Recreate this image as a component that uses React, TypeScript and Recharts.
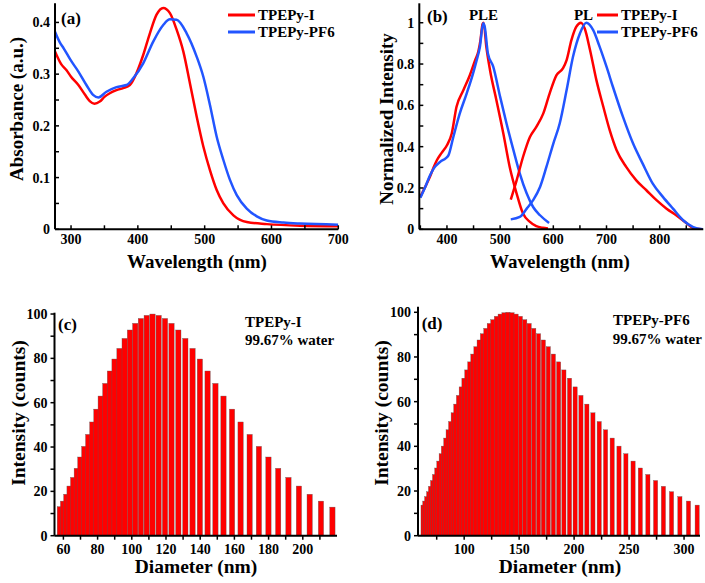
import React from "react";
import { LineChart, Line, BarChart, Bar, XAxis, YAxis, Legend } from "recharts";

const SERIF = '"Liberation Serif", "Times New Roman", serif';
const RED = "#ff0000";
const BLUE = "#2255ff";

// (a) absorbance
const absWlI = [276, 285, 293, 300, 311, 321, 328, 335, 343, 350, 358, 368, 378, 388, 398, 408, 418, 428, 438, 448, 458, 468, 478, 488, 498, 508, 518, 528, 543, 563, 593, 643, 700];
const absValI = [0.344, 0.32, 0.308, 0.295, 0.279, 0.26, 0.248, 0.243, 0.247, 0.256, 0.263, 0.269, 0.273, 0.279, 0.302, 0.337, 0.379, 0.415, 0.428, 0.418, 0.386, 0.344, 0.282, 0.218, 0.16, 0.114, 0.076, 0.05, 0.027, 0.014, 0.01, 0.007, 0.006];
const absWlPF6 = [276, 283, 289, 299, 311, 323, 333, 341, 353, 368, 383, 393, 408, 423, 438, 448, 458, 473, 488, 498, 508, 518, 528, 538, 548, 563, 578, 593, 618, 643, 700];
const absValPF6 = [0.382, 0.362, 0.35, 0.328, 0.305, 0.279, 0.26, 0.255, 0.266, 0.275, 0.279, 0.292, 0.321, 0.363, 0.395, 0.406, 0.405, 0.379, 0.334, 0.295, 0.24, 0.179, 0.134, 0.095, 0.066, 0.04, 0.025, 0.017, 0.013, 0.011, 0.009];

// (b) PLE / PL
const pleWlI = [350, 360, 368, 375, 381, 390, 400, 409, 418, 431, 443, 453, 459, 463, 467, 469, 474, 481, 493, 506, 518, 531, 543, 556, 568, 580, 590];
const pleValI = [0.157, 0.21, 0.254, 0.3, 0.334, 0.37, 0.407, 0.464, 0.593, 0.674, 0.746, 0.819, 0.86, 0.916, 0.994, 1.0, 0.884, 0.77, 0.625, 0.464, 0.302, 0.173, 0.076, 0.036, 0.015, 0.007, 0.004];
const pleWlPF6 = [350, 360, 368, 375, 387, 398, 403, 412, 424, 437, 449, 456, 462, 468, 471, 477, 487, 500, 512, 525, 537, 550, 562, 575, 592];
const pleValPF6 = [0.153, 0.21, 0.26, 0.294, 0.326, 0.345, 0.359, 0.447, 0.56, 0.657, 0.754, 0.82, 0.884, 0.997, 0.98, 0.851, 0.787, 0.641, 0.512, 0.383, 0.27, 0.173, 0.108, 0.068, 0.031];
const plWlI = [520, 531, 543, 556, 568, 581, 593, 606, 618, 625, 634, 643, 652, 659, 669, 681, 694, 706, 719, 737, 756, 775, 794, 813, 831, 850, 863, 878];
const plValI = [0.144, 0.237, 0.35, 0.447, 0.496, 0.56, 0.657, 0.746, 0.779, 0.819, 0.916, 0.98, 1.0, 0.972, 0.868, 0.722, 0.593, 0.48, 0.383, 0.302, 0.237, 0.189, 0.141, 0.1, 0.068, 0.031, 0.006, 0];
const plWlPF6 = [520, 537, 550, 562, 575, 587, 600, 612, 625, 637, 650, 662, 675, 687, 700, 712, 731, 750, 768, 787, 806, 825, 844, 863, 881];
const plValPF6 = [0.048, 0.06, 0.1, 0.141, 0.205, 0.302, 0.415, 0.512, 0.674, 0.835, 0.948, 1.0, 0.964, 0.884, 0.787, 0.69, 0.544, 0.415, 0.318, 0.221, 0.157, 0.1, 0.044, 0.011, 0];

// (c) DLS TPEPy-I
const dlsDiamI = [57.8, 59.7, 61.6, 63.5, 65.6, 67.7, 69.8, 72.1, 74.4, 76.8, 79.2, 81.7, 84.4, 87.1, 89.8, 92.7, 95.7, 98.8, 101.9, 105.2, 108.6, 112.0, 115.6, 119.3, 123.1, 127.1, 131.2, 135.4, 139.7, 144.2, 148.8, 153.5, 158.5, 163.5, 168.8, 174.2, 179.8, 185.5, 191.5, 197.6, 203.9, 210.5, 217.2];
const dlsCountI = [13.1, 15.6, 18.7, 22.4, 26.3, 30.4, 35.5, 40.3, 45.7, 51.3, 57.1, 63.0, 68.7, 74.3, 79.7, 84.5, 89.0, 92.8, 95.8, 98.0, 99.4, 100, 99.4, 98.0, 95.8, 92.8, 89.0, 84.5, 79.7, 74.3, 68.7, 63.0, 57.1, 51.3, 45.7, 40.3, 35.5, 30.4, 26.3, 22.4, 18.7, 15.6, 12.9];

// (d) DLS TPEPy-PF6
const dlsDiamPF6 = [62.8, 64.4, 66.1, 67.9, 69.6, 71.5, 73.3, 75.3, 77.2, 79.3, 81.3, 83.5, 85.6, 87.9, 90.2, 92.6, 95.0, 97.5, 100.0, 102.6, 105.3, 108.1, 110.9, 113.8, 116.8, 119.9, 123.0, 126.2, 129.5, 132.9, 136.4, 140.0, 143.7, 147.4, 151.3, 155.3, 159.3, 163.5, 167.8, 172.2, 176.7, 181.3, 186.1, 190.9, 196.0, 201.1, 206.4, 211.8, 217.3, 223.0, 228.8, 234.8, 241.0, 247.3, 253.8, 260.4, 267.3, 274.3, 281.4, 288.8, 296.4, 304.2, 312.1];
const dlsCountPF6 = [13.7, 15.5, 17.5, 19.7, 22.1, 24.7, 27.4, 30.3, 33.4, 36.7, 40.1, 43.7, 47.4, 51.1, 55.0, 58.9, 62.8, 66.6, 70.5, 74.2, 77.8, 81.3, 84.6, 87.6, 90.4, 92.8, 95.0, 96.7, 98.2, 99.2, 99.8, 100, 99.8, 99.2, 98.2, 96.7, 95.0, 92.8, 90.4, 87.6, 84.6, 81.3, 77.8, 74.2, 70.5, 66.6, 62.8, 58.9, 55.0, 51.1, 47.4, 43.7, 40.1, 36.7, 33.4, 30.3, 27.4, 24.7, 22.1, 19.7, 17.5, 15.5, 13.7];

// ticks
const aXTicks = [300, 350, 400, 450, 500, 550, 600, 650, 700];
const aYTicks = [0, 0.05, 0.1, 0.15, 0.2, 0.25, 0.3, 0.35, 0.4];
const bXTicks = [350, 400, 450, 500, 550, 600, 650, 700, 750, 800, 850];
const bYTicks = [0, 0.1, 0.2, 0.3, 0.4, 0.5, 0.6, 0.7, 0.8, 0.9, 1.0];
const cXTicks = [60, 70, 80, 90, 100, 110, 120, 130, 140, 150, 160, 170, 180, 190, 200, 210];
const dXTicks = [75, 100, 125, 150, 175, 200, 225, 250, 275, 300];
const countTicks = [0, 10, 20, 30, 40, 50, 60, 70, 80, 90, 100];

const zip = (xs: number[], ys: number[]) => xs.map((x, i) => ({ x, y: ys[i] }));

const tickFont = { fontSize: 14, fontWeight: 700, fill: "#000", fontFamily: SERIF };
const axisStroke = { stroke: "#000", strokeWidth: 2 };
const tickStroke = { stroke: "#000", strokeWidth: 1.5 };

const everyOther = (step: number) => (v: number) =>
  Math.abs(v / step - Math.round(v / step)) < 1e-6 ? String(Math.round(v * 10) / 10) : "";

function Txt({ x, y, size, anchor, rotate, children }: any) {
  let transform = "translate(0,-50%)";
  if (anchor === "middle") transform = "translate(-50%,-50%)";
  if (rotate) transform = "translate(-50%,-50%) rotate(-90deg)";
  return (
    <span
      style={{
        position: "absolute",
        left: x,
        top: y,
        fontSize: size,
        lineHeight: 1,
        transform,
        whiteSpace: "nowrap",
        fontFamily: SERIF,
        fontWeight: 700,
        color: "#000",
      }}
    >
      {children}
    </span>
  );
}

const legendNames = ["TPEPy-I", "TPEPy-PF6"];

const makeLegend = (lineW: number) => (props: any) => (
  <div style={{ fontFamily: SERIF, fontWeight: 700, fontSize: 15, color: "#000" }}>
    {(props.payload || [])
      .filter((it: any) => it.type !== "none" && legendNames.includes(it.value))
      .map((it: any) => (
        <div key={it.value} style={{ display: "flex", alignItems: "center", height: 17, whiteSpace: "nowrap" }}>
          <svg width={lineW} height={4} style={{ display: "block" }}>
            <line x1={0} y1={2} x2={lineW} y2={2} stroke={it.color} strokeWidth={3} />
          </svg>
          <span style={{ marginLeft: 3 }}>{it.value}</span>
        </div>
      ))}
  </div>
);

// bar drawn centred on the library's x position, with a fixed width
const barShape = (w: number) => (p: any) => (
  <rect
    x={p.x + p.width / 2 - w / 2}
    y={p.y}
    width={w}
    height={p.height}
    fill={RED}
    stroke="#5a5a5a"
    strokeWidth={0.35}
  />
);

export default function App() {
  return (
    <div style={{ position: "absolute", left: 0, top: 0, width: 705, height: 583, background: "#fff", overflow: "hidden" }}>
      {/* (a) */}
      <div style={{ position: "absolute", left: 0, top: 0 }}>
        <LineChart width={350} height={290} margin={{ top: 3.3, right: 11.7, bottom: 30.7, left: 0 }}>
          <XAxis dataKey="x" type="number" domain={[276, 700]} allowDataOverflow ticks={aXTicks} interval={0}
            tickFormatter={everyOther(100)} tick={tickFont} tickSize={-4} tickMargin={9}
            axisLine={axisStroke} tickLine={tickStroke} height={30} />
          <XAxis xAxisId="top" orientation="top" type="number" domain={[276, 700]} allowDataOverflow
            tick={false} tickLine={false} axisLine={axisStroke} height={0} />
          <YAxis type="number" domain={[0, 0.437]} allowDataOverflow ticks={aYTicks} interval={0}
            tickFormatter={everyOther(0.1)} tick={tickFont} tickSize={-4} tickMargin={9}
            axisLine={axisStroke} tickLine={tickStroke} width={55} />
          <YAxis yAxisId="right" orientation="right" type="number" domain={[0, 0.437]} allowDataOverflow
            tick={false} tickLine={false} axisLine={axisStroke} width={0} />
          <Line data={zip(absWlI, absValI)} dataKey="y" name="TPEPy-I" type="monotone" stroke={RED}
            strokeWidth={2.5} dot={false} isAnimationActive={false} />
          <Line data={zip(absWlPF6, absValPF6)} dataKey="y" name="TPEPy-PF6" type="monotone" stroke={BLUE}
            strokeWidth={2.5} dot={false} isAnimationActive={false} />
          <Legend layout="vertical" align="center" verticalAlign="middle" content={makeLegend(27)}
            wrapperStyle={{ left: 228, top: 6.5, width: 120 }} />
        </LineChart>
      </div>

      {/* (b) */}
      <div style={{ position: "absolute", left: 350, top: 0 }}>
        <LineChart width={355} height={290} margin={{ top: 3.3, right: 1.7, bottom: 30.7, left: 0 }}>
          <XAxis dataKey="x" type="number" domain={[348, 882]} allowDataOverflow ticks={bXTicks} interval={0}
            tickFormatter={everyOther(100)} tick={tickFont} tickSize={-4} tickMargin={9}
            axisLine={axisStroke} tickLine={tickStroke} height={30} />
          <XAxis xAxisId="top" orientation="top" type="number" domain={[348, 882]} allowDataOverflow
            tick={false} tickLine={false} axisLine={axisStroke} height={0} />
          <YAxis type="number" domain={[0, 1.094]} allowDataOverflow ticks={bYTicks} interval={0}
            tickFormatter={everyOther(0.2)} tick={tickFont} tickSize={-4} tickMargin={9}
            axisLine={axisStroke} tickLine={tickStroke} width={69.3} />
          <YAxis yAxisId="right" orientation="right" type="number" domain={[0, 1.094]} allowDataOverflow
            tick={false} tickLine={false} axisLine={axisStroke} width={0} />
          <Line data={zip(pleWlI, pleValI)} dataKey="y" name="TPEPy-I" type="monotone" stroke={RED}
            strokeWidth={2.5} dot={false} isAnimationActive={false} />
          <Line data={zip(pleWlPF6, pleValPF6)} dataKey="y" name="TPEPy-PF6" type="monotone" stroke={BLUE}
            strokeWidth={2.5} dot={false} isAnimationActive={false} />
          <Line data={zip(plWlI, plValI)} dataKey="y" name="PL TPEPy-I" legendType="none" type="monotone" stroke={RED}
            strokeWidth={2.5} dot={false} isAnimationActive={false} />
          <Line data={zip(plWlPF6, plValPF6)} dataKey="y" name="PL TPEPy-PF6" legendType="none" type="monotone" stroke={BLUE}
            strokeWidth={2.5} dot={false} isAnimationActive={false} />
          <Legend layout="vertical" align="center" verticalAlign="middle" content={makeLegend(21)}
            wrapperStyle={{ left: 247, top: 6.5, width: 108 }} />
        </LineChart>
      </div>

      {/* (c) */}
      <div style={{ position: "absolute", left: 0, top: 295 }}>
        <BarChart width={350} height={288} data={zip(dlsDiamI, dlsCountI)}
          margin={{ top: 17.7, right: 13, bottom: 17.3, left: 0 }}>
          <XAxis dataKey="x" type="number" domain={[54.8, 220]} allowDataOverflow ticks={cXTicks} interval={0}
            tickFormatter={everyOther(20)} tick={tickFont} tickSize={4} tickMargin={4}
            axisLine={axisStroke} tickLine={tickStroke} height={30} />
          <XAxis xAxisId="top" orientation="top" type="number" domain={[54.8, 220]} allowDataOverflow
            tick={false} tickLine={false} axisLine={axisStroke} height={0} />
          <YAxis type="number" domain={[0, 100.6]} allowDataOverflow ticks={countTicks} interval={0}
            tickFormatter={everyOther(20)} tick={tickFont} tickSize={4} tickMargin={3}
            axisLine={axisStroke} tickLine={tickStroke} width={54.5} />
          <YAxis yAxisId="right" orientation="right" type="number" domain={[0, 100.6]} allowDataOverflow
            tick={false} tickLine={false} axisLine={axisStroke} width={0} />
          <Bar dataKey="y" fill={RED} shape={barShape(5.3)} isAnimationActive={false} />
        </BarChart>
      </div>

      {/* (d) */}
      <div style={{ position: "absolute", left: 350, top: 295 }}>
        <BarChart width={355} height={288} data={zip(dlsDiamPF6, dlsCountPF6)}
          margin={{ top: 11.7, right: 5, bottom: 17.3, left: 0 }}>
          <XAxis dataKey="x" type="number" domain={[58, 314.5]} allowDataOverflow ticks={dXTicks} interval={0}
            tickFormatter={everyOther(50)} tick={tickFont} tickSize={4} tickMargin={4}
            axisLine={axisStroke} tickLine={tickStroke} height={30} />
          <XAxis xAxisId="top" orientation="top" type="number" domain={[58, 314.5]} allowDataOverflow
            tick={false} tickLine={false} axisLine={axisStroke} height={0} />
          <YAxis type="number" domain={[0, 102.5]} allowDataOverflow ticks={countTicks} interval={0}
            tickFormatter={everyOther(20)} tick={tickFont} tickSize={4} tickMargin={3}
            axisLine={axisStroke} tickLine={tickStroke} width={68} />
          <YAxis yAxisId="right" orientation="right" type="number" domain={[0, 102.5]} allowDataOverflow
            tick={false} tickLine={false} axisLine={axisStroke} width={0} />
          <Bar dataKey="y" fill={RED} shape={barShape(4.2)} isAnimationActive={false} />
        </BarChart>
      </div>

      {/* text overlays */}
      <Txt x={61} y={17.5} size={17}>(a)</Txt>
      <Txt x={15.5} y={108.5} size={19} rotate>Absorbance (a.u.)</Txt>
      <Txt x={197} y={261} size={19} anchor="middle">Wavelength (nm)</Txt>

      <Txt x={427} y={16} size={17}>(b)</Txt>
      <Txt x={483.5} y={15} size={15} anchor="middle">PLE</Txt>
      <Txt x={583.5} y={15} size={15} anchor="middle">PL</Txt>
      <Txt x={385.5} y={119} size={19} rotate>Normalized Intensity</Txt>
      <Txt x={560} y={261} size={19} anchor="middle">Wavelength (nm)</Txt>

      <Txt x={58} y={324} size={17}>(c)</Txt>
      <Txt x={245} y={321.7} size={15}>TPEPy-I</Txt>
      <Txt x={245} y={340} size={15}>99.67% water</Txt>
      <Txt x={18.5} y={413} size={19.5} rotate>Intensity (counts)</Txt>
      <Txt x={196} y={567} size={19.5} anchor="middle">Diameter (nm)</Txt>

      <Txt x={421.7} y={323.3} size={17}>(d)</Txt>
      <Txt x={613} y={320} size={15}>TPEPy-PF6</Txt>
      <Txt x={612.7} y={339.3} size={15}>99.67% water</Txt>
      <Txt x={382} y={413} size={19.5} rotate>Intensity (counts)</Txt>
      <Txt x={560} y={567} size={19.5} anchor="middle">Diameter (nm)</Txt>
    </div>
  );
}
